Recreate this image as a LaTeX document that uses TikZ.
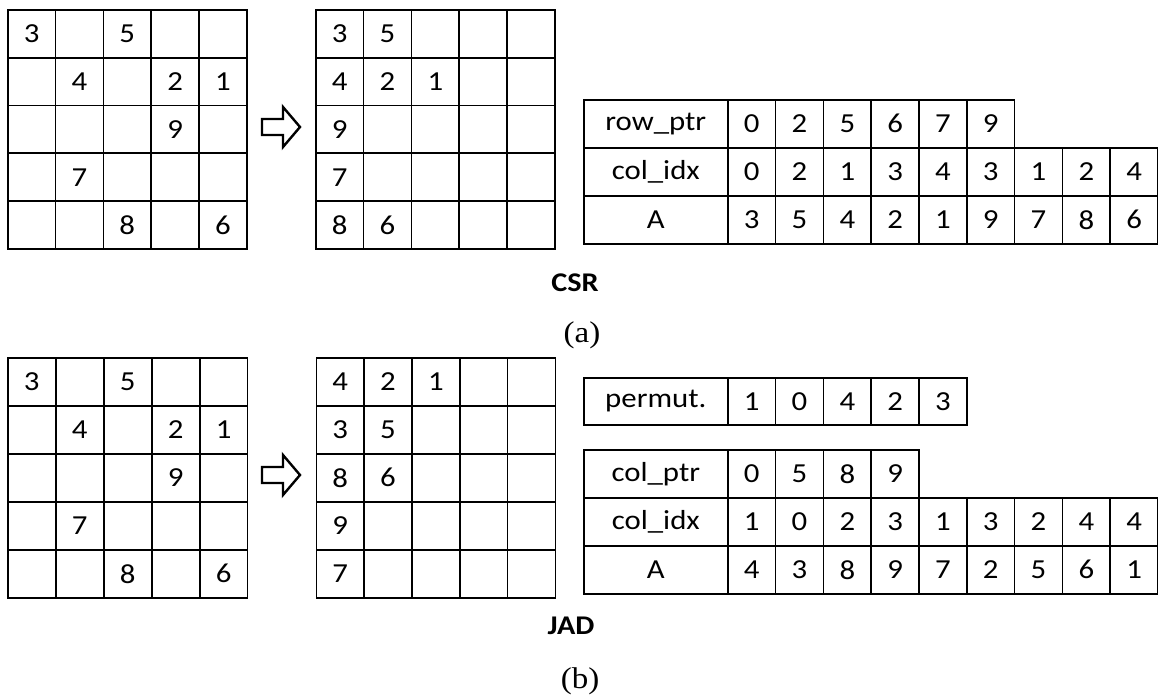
\documentclass[tikz,border=0pt]{standalone}
\usepackage{fontspec}
\newfontfamily\cellfont[FakeStretch=1.12]{Carlito}
\newfontfamily\capfont[FakeStretch=1.1]{Liberation Serif}
\begin{document}
\begin{tikzpicture}[x=1pt,y=-1pt,
  cell/.style={draw, line width=1.6pt, inner sep=0pt, minimum width=47.8pt,
    minimum height=48pt, anchor=north west,
    font=\cellfont\fontsize{27.5}{27.5}\selectfont},
  labcell/.style={cell, minimum width=144pt},
  num/.style={inner sep=0pt, font=\cellfont\fontsize{27.5}{27.5}\selectfont},
  title/.style={inner sep=0pt, font=\cellfont\bfseries\fontsize{27}{27}\selectfont},
  caption/.style={inner sep=0pt, font=\capfont\fontsize{30}{30}\selectfont},
  blockarrow/.style={draw, line width=2.4pt, line join=miter}]
\useasboundingbox (0,0) rectangle (1158,698);

% ---------- (a) CSR ----------
% original sparse matrix and its row-compressed form
\foreach \r in {1,...,5}
  \foreach \c in {1,...,5} {
    \node[cell] (a-L-\r-\c) at ({7+(\c-1)*47.8},{9+(\r-1)*47.8}) {};
    \node[cell] (a-R-\r-\c) at ({315+(\c-1)*47.8},{9+(\r-1)*47.8}) {};
  }
\foreach \r/\c/\v in {1/1/3,1/3/5,2/2/4,2/4/2,2/5/1,3/4/9,4/2/7,5/3/8,5/5/6}
  \node[num] at (a-L-\r-\c) {\v};
\foreach \r/\c/\v in {1/1/3,1/2/5,2/1/4,2/2/2,2/3/1,3/1/9,4/1/7,5/1/8,5/2/6}
  \node[num] at (a-R-\r-\c) {\v};
\draw[blockarrow] (262,119) -- (283,119) -- (283,107) -- (300,127)
  -- (283,147) -- (283,135) -- (262,135) -- cycle;

% CSR arrays
\node[labcell] (a-rp) at (583,99) {row\_ptr};
\foreach \v [count=\i from 0] in {0,2,5,6,7,9}
  \node[cell] (a-rp-\i) at ({727+\i*47.8},99) {\v};
\node[labcell] (a-ci) at (583,147) {col\_idx};
\foreach \v [count=\i from 0] in {0,2,1,3,4,3,1,2,4}
  \node[cell] (a-ci-\i) at ({727+\i*47.8},147) {\v};
\node[labcell] (a-A) at (583,195) {A};
\foreach \v [count=\i from 0] in {3,5,4,2,1,9,7,8,6}
  \node[cell] (a-A-\i) at ({727+\i*47.8},195) {\v};

\node[title] (csr) at (575,283) {CSR};
\node[caption] (capa) at (582,335) {(a)};

% ---------- (b) JAD ----------
\foreach \r in {1,...,5}
  \foreach \c in {1,...,5} {
    \node[cell] (b-L-\r-\c) at ({7+(\c-1)*48},{357+(\r-1)*48}) {};
    \node[cell] (b-R-\r-\c) at ({315.5+(\c-1)*47.8},{357+(\r-1)*48}) {};
  }
\foreach \r/\c/\v in {1/1/3,1/3/5,2/2/4,2/4/2,2/5/1,3/4/9,4/2/7,5/3/8,5/5/6}
  \node[num] at (b-L-\r-\c) {\v};
\foreach \r/\c/\v in {1/1/4,1/2/2,1/3/1,2/1/3,2/2/5,3/1/8,3/2/6,4/1/9,5/1/7}
  \node[num] at (b-R-\r-\c) {\v};
\draw[blockarrow] (262,467) -- (283,467) -- (283,455) -- (300,475)
  -- (283,495) -- (283,483) -- (262,483) -- cycle;

% JAD arrays
\node[labcell, minimum height=47pt] (b-pm) at (583,377) {permut.};
\foreach \v [count=\i from 0] in {1,0,4,2,3}
  \node[cell, minimum height=47pt] (b-pm-\i) at ({727+\i*47.8},377) {\v};
\node[labcell] (b-cp) at (583,449) {col\_ptr};
\foreach \v [count=\i from 0] in {0,5,8,9}
  \node[cell] (b-cp-\i) at ({727+\i*47.8},449) {\v};
\node[labcell] (b-ci) at (583,497) {col\_idx};
\foreach \v [count=\i from 0] in {1,0,2,3,1,3,2,4,4}
  \node[cell] (b-ci-\i) at ({727+\i*47.8},497) {\v};
\node[labcell] (b-A) at (583,545) {A};
\foreach \v [count=\i from 0] in {4,3,8,9,7,2,5,6,1}
  \node[cell] (b-A-\i) at ({727+\i*47.8},545) {\v};

\node[title] (jad) at (571,626) {JAD};
\node[caption] (capb) at (580,681) {(b)};
\end{tikzpicture}
\end{document}
